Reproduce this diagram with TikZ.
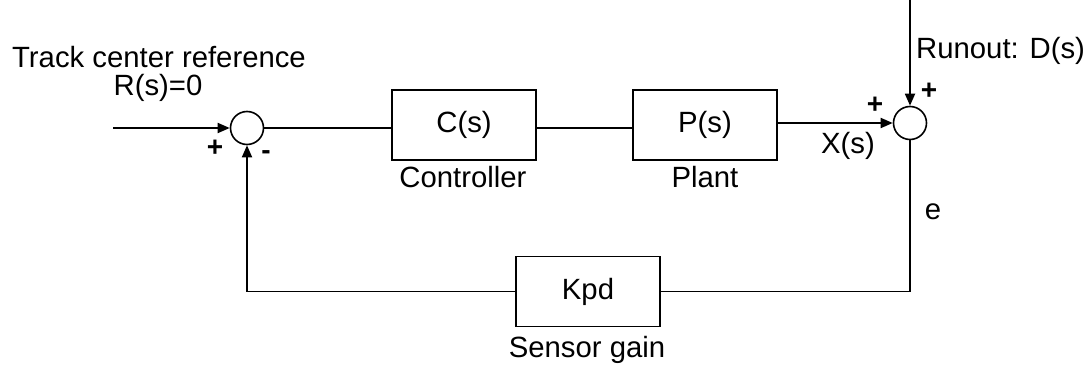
\documentclass[tikz,border=0pt]{standalone}
\usepackage{fontspec}
\setmainfont{Liberation Sans}
\usetikzlibrary{arrows.meta}
\begin{document}
\begin{tikzpicture}[x=1pt,y=-1pt,
  every node/.style={inner sep=0pt},
  txt/.style={font=\fontsize{29.3}{34}\selectfont},
  sgn/.style={font=\fontsize{28}{32}\selectfont\bfseries},
  blk/.style={draw,line width=1.6pt,minimum width=144pt,minimum height=70pt,font=\fontsize{29.3}{34}\selectfont},
  sumnode/.style={draw,circle,line width=1.6pt,minimum size=33pt},
  wire/.style={line width=1.8pt},
  arr/.style={wire,-{Triangle[length=12pt,width=10pt]}}]
\useasboundingbox (0,0) rectangle (1091,366);
% nodes
\node[sumnode] (sumL) at (247,128) {};
\node[blk] (C) at (464,125) {C(s)};
\node[blk] (P) at (705,125) {P(s)};
\node[sumnode] (sumR) at (910,123) {};
\node[blk] (K) at (588,291.5) {Kpd};
\coordinate (in) at (113,128);
\coordinate (dtop) at (910,0);
\coordinate (br) at (910,291.5);
\coordinate (bl) at (247,291.5);
% connectors
\draw[arr] (in) -- (sumL.west);
\draw[wire] (sumL.east) -- (sumL.east -| C.west);
\draw[wire] (C.east |- sumL.east) -- (P.west |- sumL.east);
\draw[arr] (P.east |- sumR) -- (sumR.west);
\draw[arr] (dtop) -- (sumR.north);
\draw[wire] (sumR.south) -- (br) -- (K.east);
\draw[arr] (K.west) -- (bl) -- (sumL.south);
% labels
\node[txt] (t1) at (159,57) {Track center reference};
\node[txt] (t2) at (158,88) {R(s)=0};
\node[sgn] (pL) at (215,148) {+};
\node[sgn] (mL) at (266,155) {-};
\node[txt] (lc) at (463,177) {Controller};
\node[txt] (lp) at (705,177) {Plant};
\node[txt] (lx) at (848,146) {X(s)};
\node[sgn] (pR1) at (875,105) {+};
\node[sgn] (pR2) at (929,91) {+};
\node[txt,anchor=west] (ld) at (916,51) {Runout: D(s)};
\node[txt] (le) at (933,212) {e};
\node[txt] (ls) at (587,350) {Sensor gain};
\end{tikzpicture}
\end{document}
